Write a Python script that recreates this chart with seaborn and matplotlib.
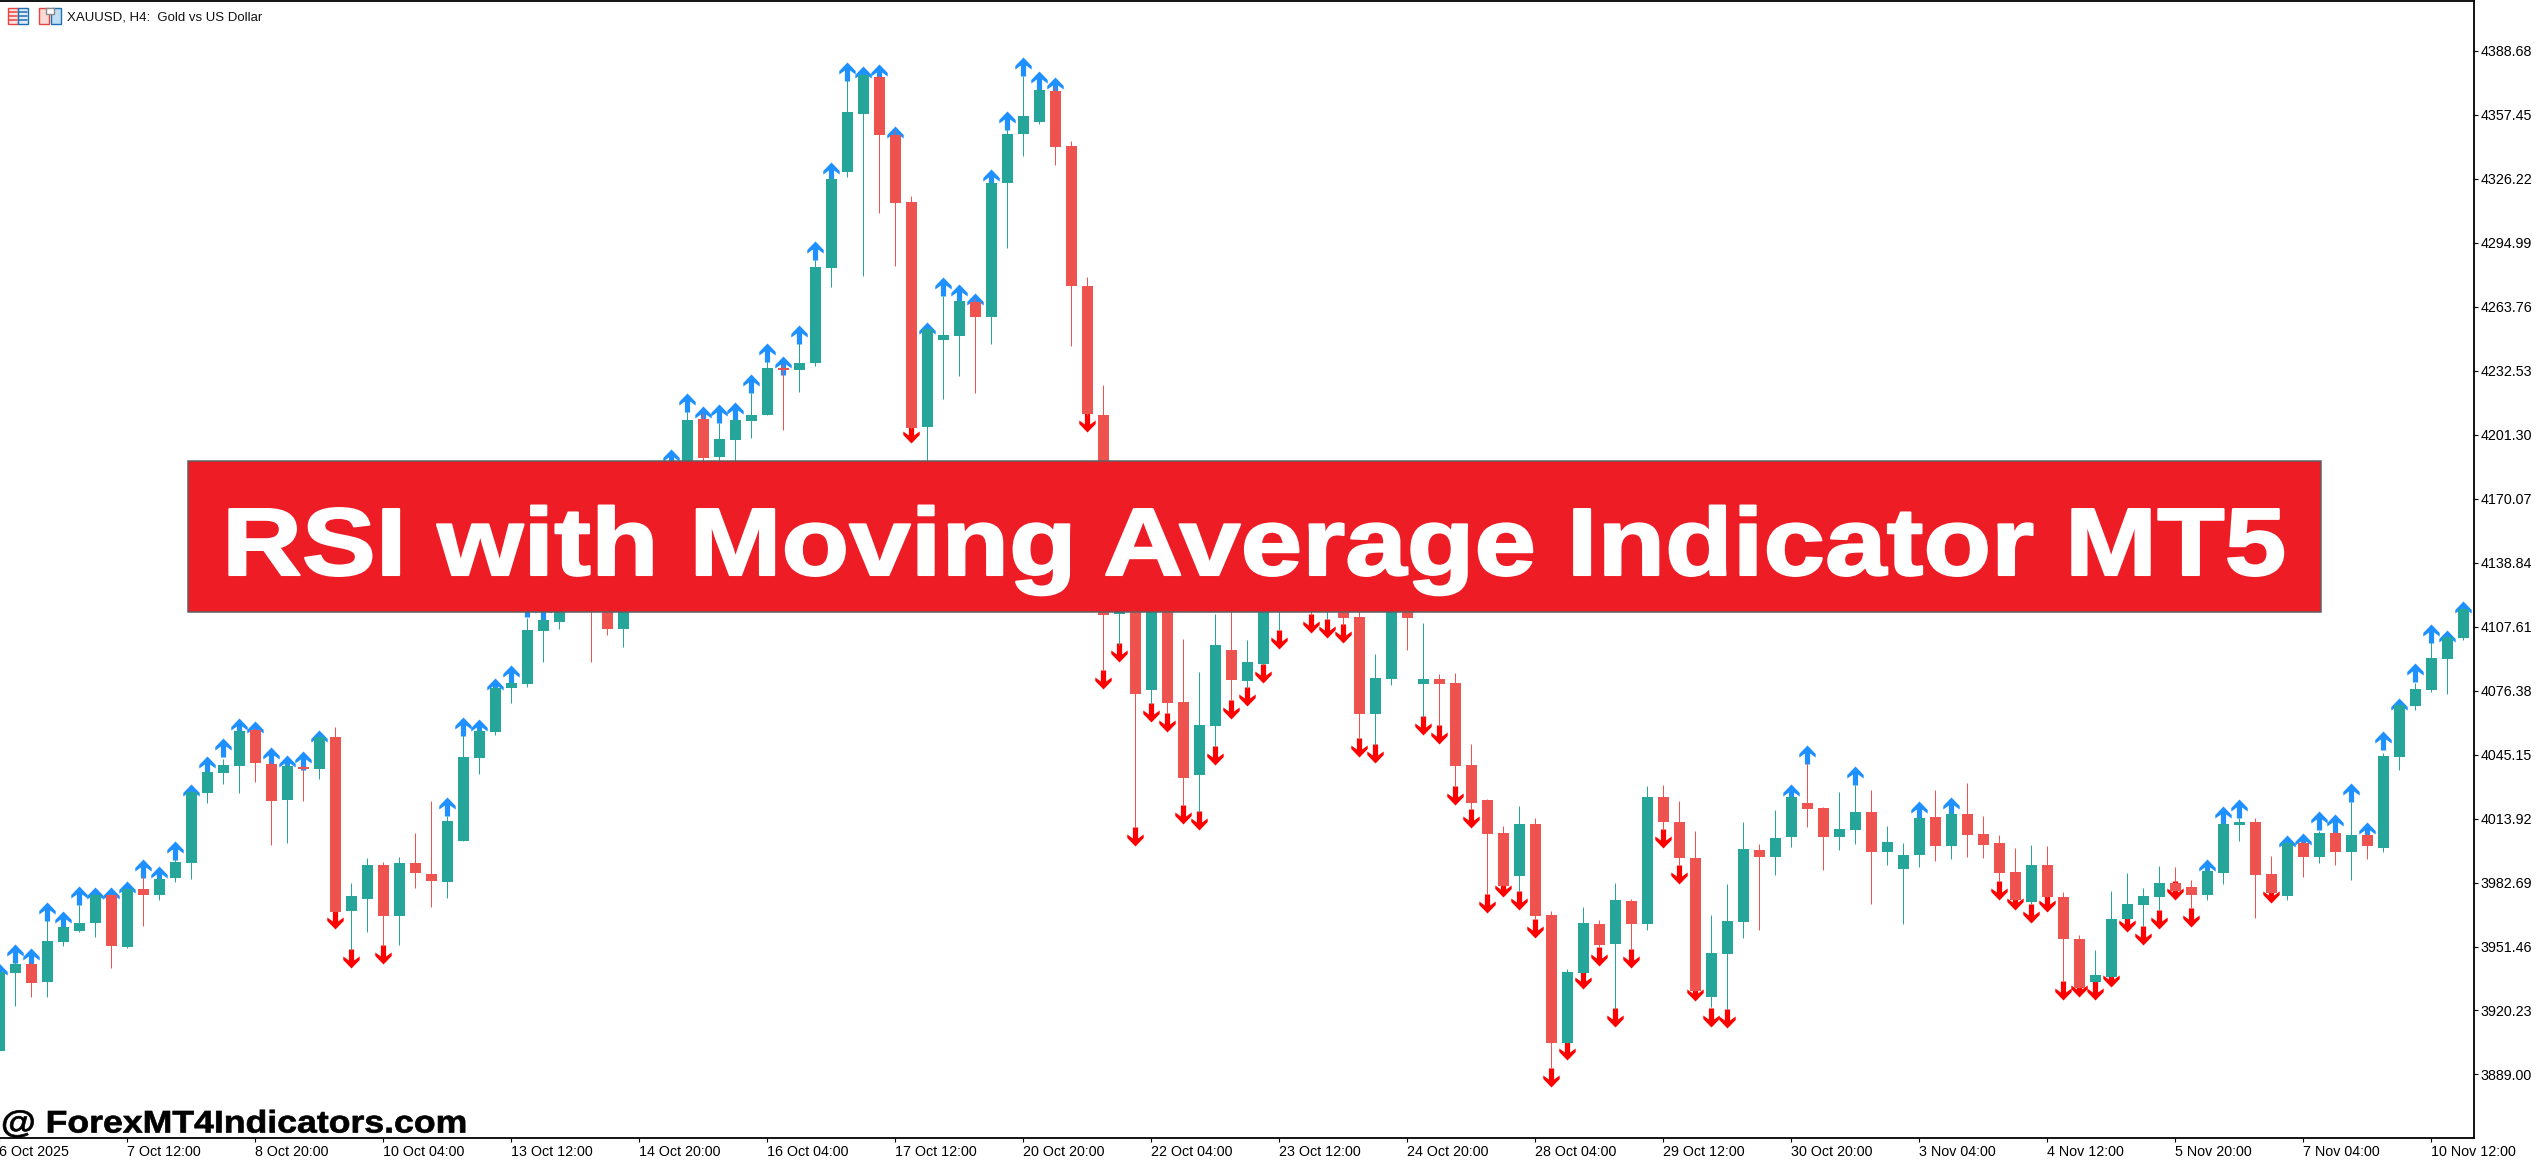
"""XAUUSD H4 candles with RSI/MA signal arrows, MT5 style."""
import numpy as np
import pandas as pd
import matplotlib
matplotlib.use("Agg")
import matplotlib.pyplot as plt
from matplotlib.patches import Rectangle
from matplotlib.path import Path
from matplotlib.patheffects import AbstractPathEffect
from matplotlib.transforms import Affine2D
import seaborn as sns

_ = np.nan

# ── data (price per H4 bar) ───────────────────────────────────────────────────
opens = [
    3900.7, 3938.7, 3942.9, 3934.3, 3953.9, 3959, 3962.7, 3976.4, 3951.1, 3979.5,
    3976.5, 3985, 3992.3, 4026.3, 4036.1, 4039.6, 4057.3, 4040.5, 4023, 4039.1,
    4038.1, 4053.7, 3968.8, 3974.6, 3991.3, 3966.4, 3992.3, 3986.9, 3983, 4003,
    4043.5, 4056.1, 4077.7, 4079.6, 4105.5, 4109.9, 4125, 4150, 4135, 4106.4,
    4150, 4165, 4178, 4178, 4208.9, 4190.5, 4198.7, 4207.9, 4210.9, 4233.8,
    4232.8, 4236.2, 4282.6, 4329.5, 4357.8, 4375.8, 4347.5, 4314.8, 4205, 4247.5,
    4249.4, 4266, 4258.7, 4324.1, 4348, 4353.9, 4369, 4342.1, 4273.8, 4210.9,
    4113.9, 4135, 4076.6, 4130, 4070.8, 4035.3, 4059.1, 4096.2, 4081, 4089.4,
    4118, 4130, 4125, 4118, 4125, 4112.4, 4065, 4082, 4125, 4079.6,
    4082, 4080.1, 4040, 4023, 4006.9, 3985.8, 4011.2, 3966.9, 3904.3, 3938.5,
    3962.5, 3952.7, 3973.7, 3962.5, 4024.4, 4012.3, 3994.6, 3926.8, 3947.8, 3963.4,
    3998.6, 3995.1, 4004.9, 4021.6, 4019.1, 4004.9, 4008.3, 4017.2, 3997.6, 3989.3,
    3996.2, 4014.7, 4000.6, 4016.2, 4006.3, 4002, 3987.8, 3973.2, 3991.3, 3975.7,
    3955.2, 3934.1, 3936.8, 3965, 3971.8, 3975.7, 3982.5, 3980.6, 3976.5, 3987.4,
    4010.7, 4012.3, 3986.9, 3976.2, 4002, 3995.1, 4006.9, 3997.6, 4006, 3999.5,
    4044, 4068.9, 4076.6, 4091.9, 4102,
]
highs = [
    3941, 3945, 3944, 3964.6, 3962, 3971.6, 3978, 3977, 3980, 3985.7,
    3986, 3994, 4028, 4038, 4043, 4058, 4058, 4042, 4041, 4040,
    4055, 4058.4, 3982.5, 3994.6, 3992.7, 3995.1, 4006.9, 4022.5, 4015.4, 4054.9,
    4058, 4079, 4081, 4111.8, 4113, 4130, 4135, 4155, 4140, 4152,
    4168, 4180, 4188, 4213, 4212, 4207, 4210, 4221.8, 4237, 4236,
    4245.8, 4286.8, 4328, 4374.4, 4378, 4377, 4350, 4317.7, 4254, 4269,
    4268, 4268, 4326, 4352, 4376.3, 4371, 4371, 4344.6, 4278.2, 4225.5,
    4135, 4140, 4140, 4135, 4101.7, 4085.5, 4113.8, 4118, 4101.3, 4125,
    4132, 4140, 4130, 4130, 4130, 4120, 4094, 4128, 4130, 4109.4,
    4084.7, 4085, 4050.5, 4023.3, 4010.5, 4020.2, 4014.4, 3968.8, 3940.4, 3970.8,
    3964.6, 3982.5, 3974.6, 4029.8, 4030.3, 4022.5, 4007.6, 3966.9, 3982, 4012.3,
    4001.4, 4018.1, 4026, 4040.9, 4019.5, 4026.8, 4030.3, 4027.9, 4010.4, 4002,
    4016, 4027.9, 4018, 4031.2, 4015.1, 4006, 3999.5, 4001.1, 4000.6, 3978.1,
    3957.1, 3949.7, 3978.6, 3987.4, 3980, 3990.7, 3990.2, 3983.9, 3990, 4012,
    4014, 4014.2, 3995.6, 4003, 4003, 4008, 4008, 4022, 4007, 4046,
    4070, 4080, 4100, 4103, 4117,
]
lows = [
    3900.7, 3922.6, 3926.6, 3926.9, 3951.5, 3958.5, 3955.9, 3941, 3950.9, 3961.6,
    3974.3, 3983, 3984.4, 4021.6, 4030.9, 4026.3, 4031.7, 4001.1, 4002, 4022.5,
    4033.3, 3968.1, 3949.7, 3958.5, 3951.5, 3952.2, 3980, 3970.8, 3975.1, 4003,
    4035.6, 4054.9, 4070.3, 4078.2, 4090.3, 4106.2, 4118, 4090.3, 4103.6, 4097.6,
    4140, 4160, 4170, 4172, 4186, 4185, 4180, 4199.8, 4210.9, 4203.5,
    4222.3, 4234.9, 4273.5, 4327.2, 4278.7, 4309.6, 4283.6, 4204, 4180, 4218.7,
    4229.9, 4221.8, 4245.5, 4292.5, 4337.3, 4352.9, 4332.9, 4244.5, 4210.9, 4086.4,
    4098.7, 4009.8, 4069.8, 4065.4, 4020.7, 4017.2, 4049.3, 4071.7, 4077.7, 4089,
    4105.7, 4118, 4113.2, 4111.3, 4108.3, 4053.3, 4049.8, 4079.1, 4096.4, 4063.6,
    4059.3, 4029.8, 4018.6, 3976.9, 3980.9, 3978.6, 3965, 3892.2, 3904.3, 3938.5,
    3951, 3921.2, 3950.1, 3959.5, 4008.3, 3991.3, 3929.9, 3921.7, 3920.8, 3955.7,
    3959.7, 3986.4, 4000, 4009.8, 3988.8, 3998.6, 4001.4, 3972.2, 3991.3, 3962.5,
    3990.2, 3993.2, 3994.2, 3995.1, 3994.6, 3983.4, 3974.3, 3972.2, 3975.7, 3934.5,
    3931.3, 3934.1, 3936.8, 3965, 3961.5, 3969.4, 3978.6, 3970.2, 3974.3, 3982,
    4003, 3965.3, 3977.8, 3974.3, 3985.5, 3992.3, 3991.3, 3983.9, 3994.2, 3997.6,
    4037.7, 4067, 4075.7, 4074.7, 4101.3,
]
closes = [
    3939.2, 3942.9, 3933.8, 3954.1, 3960.9, 3962.9, 3976.4, 3951.5, 3979.3, 3976.4,
    3984.4, 3992.7, 4026.8, 4036.7, 4040, 4056.6, 4041, 4022.5, 4039.6, 4038.2,
    4053.8, 3968.5, 3976.2, 3991.3, 3966.4, 3992.3, 3987.4, 3983.4, 4012.6, 4044,
    4056.6, 4077.7, 4080.1, 4105.9, 4110.8, 4125, 4130, 4135, 4106.4, 4150,
    4165, 4178, 4186, 4208.4, 4190, 4199.1, 4208.4, 4210.9, 4233.8, 4232.8,
    4236.2, 4283.1, 4326, 4358.7, 4376.8, 4347.5, 4314.5, 4204.5, 4252.8, 4249.9,
    4266.5, 4258.7, 4324.1, 4348, 4356.8, 4369.5, 4341.7, 4273.8, 4211.4, 4113.4,
    4130, 4074.7, 4135, 4070.3, 4033.7, 4059.6, 4098.7, 4081.5, 4090.3, 4120,
    4130, 4125, 4118, 4128, 4111.8, 4065, 4082.6, 4125, 4111.8, 4082,
    4079.6, 4039.6, 4021.6, 4006.3, 3980.9, 4011.2, 3966.4, 3904.3, 3939, 3962.9,
    3952.2, 3974.1, 3962.5, 4024.4, 4012.3, 3994.6, 3929.9, 3948.3, 3963.9, 3999.2,
    3995.1, 4004.4, 4024.4, 4018.6, 4004.9, 4008.8, 4017.2, 3997.6, 4002.5, 3996.2,
    4014.2, 4000.6, 4016.2, 4006, 4001.1, 3987.4, 3974.3, 3991.3, 3975.7, 3955.2,
    3931.3, 3937.6, 3965, 3972.2, 3976.2, 3982.5, 3978.6, 3976.5, 3988.3, 4011.2,
    4012.3, 3986.4, 3977.8, 4002, 3995.1, 4006.9, 3997.6, 4006, 4000.6, 4044.5,
    4069.3, 4077.1, 4092.2, 4102.4, 4116.2,
]
# tip of each arrow signal, nan where the bar has none
buy_signal = [
    3943.6, 3952.9, 3950.6, 3973.4, 3968.7, 3981.1, 3980.4, 3980.4, 3983.6, 3994.4,
    3990.9, 4002.8, 4030.7, 4044.4, 4053.1, 4062.8, 4061.7, 4048.7, 4044.7, 4047,
    4057.3, _, _, _, _, _, _, _, 4024.6, 4063.6,
    4062.6, 4082.7, 4089.1, 4121.5, 4120, _, _, _, _, _,
    _, _, 4194.1, 4221.8, 4215.4, 4216.1, 4217, 4230.7, 4245.8, 4239.7,
    4254.6, 4295.8, 4334.2, 4383, 4381.2, 4382, 4352.1, _, 4256.4, 4278,
    4274.6, 4270.2, 4330.8, 4359.4, 4385.4, 4378.9, 4375.7, _, _, _,
    _, _, _, _, _, _, _, _, _, _,
    _, _, _, _, _, _, _, _, _, _,
    _, _, _, _, _, _, _, _, _, _,
    _, _, _, _, _, _, _, _, _, _,
    _, _, 4031, 4050, _, _, 4039.8, _, _, _,
    4022.3, _, 4024.2, _, _, _, _, _, _, _,
    _, _, _, _, _, _, _, _, 3994.4, 4020.2,
    4023.3, _, _, 4005.8, 4007, 4017.7, 4016, 4031.2, 4012.3, 4056.6,
    4072.9, 4089.6, 4108.9, 4105.9, 4120.2,
]
sell_signal = [
    _, _, _, _, _, _, _, _, _, _,
    _, _, _, _, _, _, _, _, _, _,
    _, 3960.2, 3941.1, _, 3943.1, _, _, _, _, _,
    _, _, _, _, _, _, _, _, _, _,
    _, _, _, _, _, _, _, _, _, _,
    _, _, _, _, _, _, _, 4197.4, _, _,
    _, _, _, _, _, _, _, _, 4202.7, 4077.3,
    4090.1, 4000.7, 4061.2, 4056.3, 4011.4, 4008.1, 4040.2, 4062.6, 4068.7, 4080.3,
    4096.9, _, 4104.3, 4102.2, 4099.4, 4044.2, 4040.9, _, _, 4054.9,
    4050.5, 4020.7, 4009.5, 3968, 3975.8, 3969.4, 3955.7, 3883.1, 3896.3, 3930.8,
    3942, 3912.2, 3941, _, 3999.3, 3982.2, 3924.7, 3912.4, 3911.5, _,
    _, _, _, _, _, _, _, _, _, _,
    _, _, _, _, _, 3974.3, 3969.5, 3963.1, 3968.5, 3925.5,
    3926.9, 3925.5, 3931.9, 3958.3, 3952.4, 3960.2, 3974.3, 3961.1, _, _,
    _, _, 3972.9, _, _, _, _, _, _, _,
    _, _, _, _, _,
]
price_ticks = [4388.68, 4357.45, 4326.22, 4294.99, 4263.76, 4232.53, 4201.30, 4170.07, 4138.84,
               4107.61, 4076.38, 4045.15, 4013.92, 3982.69, 3951.46, 3920.23, 3889.00]
time_labels = ["6 Oct 2025", "7 Oct 12:00", "8 Oct 20:00", "10 Oct 04:00", "13 Oct 12:00",
               "14 Oct 20:00", "16 Oct 04:00", "17 Oct 12:00", "20 Oct 20:00", "22 Oct 04:00",
               "23 Oct 12:00", "24 Oct 20:00", "28 Oct 04:00", "29 Oct 12:00", "30 Oct 20:00",
               "3 Nov 04:00", "4 Nov 12:00", "5 Nov 20:00", "7 Nov 04:00", "10 Nov 12:00"]
TIME_STEP = 8  # one label every 8 bars

W, H = 2537, 1163
BULL, BEAR = "#26A69A", "#EF5350"

sns.set_theme(style="white")
plt.rcParams["font.family"] = ["Liberation Sans", "DejaVu Sans"]


class WideText(AbstractPathEffect):
    """Stretch a text sideways from x0 (pixels) and fatten it with a stroke."""

    def __init__(self, stretch, x0, stroke):
        super().__init__()
        self.stretch, self.x0, self.stroke = stretch, x0, stroke

    def draw_path(self, renderer, gc, tpath, affine, rgbFace=None):
        wide = affine + Affine2D().translate(-self.x0, 0).scale(self.stretch, 1).translate(self.x0, 0)
        gc0 = renderer.new_gc()
        gc0.copy_properties(gc)
        gc0.set_linewidth(self.stroke)
        gc0.set_foreground(rgbFace)
        renderer.draw_path(gc0, tpath, wide, rgbFace)
        gc0.restore()


df = pd.DataFrame({"open": opens, "high": highs, "low": lows, "close": closes,
                   "buy": buy_signal, "sell": sell_signal})
df["bar"] = df.index
df["color"] = np.where(df["close"] >= df["open"], BULL, BEAR)

fig = plt.figure(figsize=(W / 100, H / 100), dpi=100, facecolor="white")
# axes starts left of the figure so the first, half-cut bar still gets its tick
LEFT_PX, RIGHT_PX, TOP_PX, BOTTOM_PX = -16, 2474, 1, 1138
ax = fig.add_axes([LEFT_PX / W, 1 - BOTTOM_PX / H, (RIGHT_PX - LEFT_PX) / W, (BOTTOM_PX - TOP_PX) / H])

# ── signal arrows (tip sits on the data value), drawn under the candles ───────
up_arrow = Path([(0, 0), (8.2, -8.5), (8.2, -12), (2.6, -8), (2.6, -19), (-2.6, -19), (-2.6, -8),
                 (-8.2, -12), (-8.2, -8.5), (0, 0)], closed=True)
down_arrow = Path([(x, -y) for x, y in up_arrow.vertices], closed=True)
sns.scatterplot(data=df, x="bar", y="buy", marker=up_arrow, s=749, color="#1E90FF",
                linewidth=0, legend=False, ax=ax, zorder=2)
sns.scatterplot(data=df, x="bar", y="sell", marker=down_arrow, s=749, color="#FF0000",
                linewidth=0, legend=False, ax=ax, zorder=2)

# ── candles ───────────────────────────────────────────────────────────────────
ax.vlines(df["bar"], df["low"], df["high"], colors=df["color"], linewidth=0.72, zorder=3)
ax.bar(df["bar"], (df["close"] - df["open"]).abs().clip(lower=1.0), bottom=df[["open", "close"]].min(axis=1),
       width=0.69, color=df["color"], linewidth=0, zorder=4, antialiased=False)

ax.set_xlim((LEFT_PX + 0.6) / 16, (RIGHT_PX + 0.6) / 16)
ax.set_ylim(3858.0, 4412.94)
ax.set_xlabel("")
ax.set_ylabel("")

ax.yaxis.tick_right()
ax.set_yticks(price_ticks)
ax.set_yticklabels([f"{p:.2f}" for p in price_ticks])
ax.set_xticks(np.arange(len(time_labels)) * TIME_STEP)
ax.set_xticklabels(time_labels, ha="left")
ax.tick_params(axis="both", length=3, width=0.8, color="black", labelsize=10.3, labelcolor="black", pad=2,
               bottom=True, right=True)
ax.spines["left"].set_visible(False)
for side in ("top", "right", "bottom"):
    ax.spines[side].set_linewidth(1.3)
    ax.spines[side].set_color("black")

# ── overlay in picture pixels: header icons, banner, watermark ────────────────
deco = fig.add_axes([0, 0, 1, 1], facecolor="none")
deco.set_xlim(0, W)
deco.set_ylim(H, 0)
deco.axis("off")

RED_ICON, BLUE_ICON = "#E8433F", "#1F6FB2"
deco.add_patch(Rectangle((7.5, 8), 10, 15.5, fc="#FBE3E0", ec=RED_ICON, lw=1))
deco.add_patch(Rectangle((17.5, 8), 10, 15.5, fc="#DCEBF7", ec=BLUE_ICON, lw=1))
for y in (12, 16, 20):
    deco.plot([9, 17], [y, y], color=RED_ICON, lw=1.1)
    deco.plot([19, 26.5], [y, y], color=BLUE_ICON, lw=1.1)
deco.add_patch(Rectangle((39, 8), 10, 15.5, fc="#FBDAD6", ec=RED_ICON, lw=1))
deco.add_patch(Rectangle((50.5, 8), 10, 15.5, fc="#BFDDF3", ec=BLUE_ICON, lw=1))
deco.add_patch(Rectangle((46, 7.5), 8, 6, fc="white", ec="#8A8A8A", lw=1))
deco.text(67, 17, "XAUUSD, H4:  Gold vs US Dollar", fontsize=9.5, color="#111111", ha="left", va="center")

deco.add_patch(Rectangle((188, 461), 2133, 151, fc="#EE1C25", ec="#5F5F5F", lw=1.1, zorder=5))
deco.text(222, 575, "RSI with Moving Average Indicator MT5", fontsize=69, fontweight="bold", color="white",
          ha="left", va="baseline", zorder=6, path_effects=[WideText(1.155, 222, 1.5)])
deco.text(1, 1132.5, "@ ForexMT4Indicators.com", fontsize=22.5, fontweight="bold", color="black",
          ha="left", va="baseline", zorder=6, path_effects=[WideText(1.14, 1, 0.5)])

fig.savefig("out.png", dpi=100, facecolor="white")
